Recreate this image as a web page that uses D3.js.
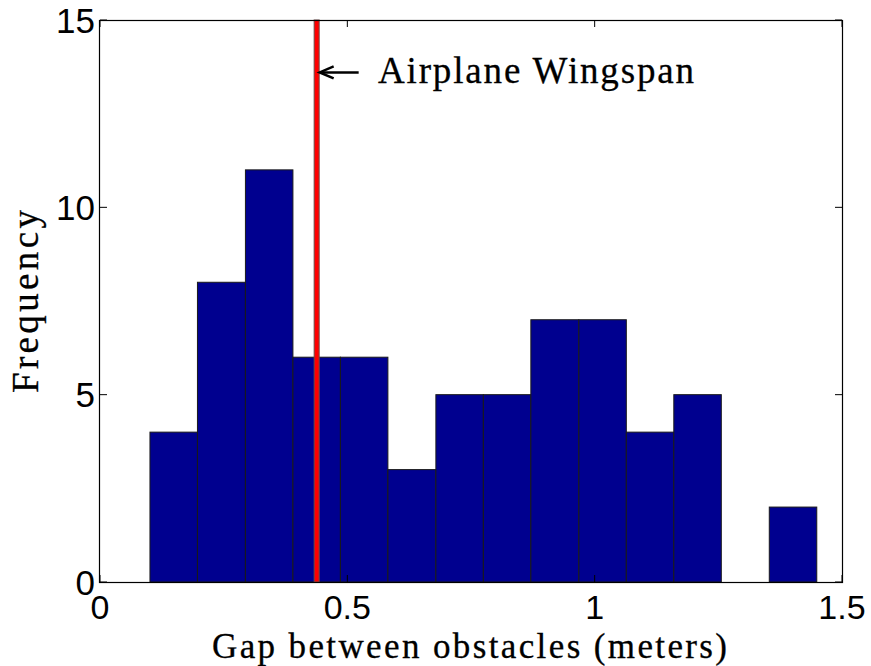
<!DOCTYPE html>
<html>
<head>
<meta charset="utf-8">
<script src="https://cdn.jsdelivr.net/npm/d3@7/dist/d3.min.js"></script>
<style>
  html, body { margin: 0; padding: 0; background: #fff; }
  svg { display: block; }
</style>
</head>
<body>
<svg id="chart" width="871" height="666"></svg>
<script>
// Histogram of gap widths between obstacles
const binEdges = [0.101, 0.197, 0.294, 0.390, 0.486, 0.582, 0.679, 0.775,
                  0.871, 0.968, 1.064, 1.160, 1.256, 1.353, 1.449];
const counts = [4, 8, 11, 6, 6, 3, 5, 5, 7, 7, 4, 5, 0, 2];
const xTicks = [0, 0.5, 1, 1.5];
const xTickLabels = ["0", "0.5", "1", "1.5"];
const yTicks = [0, 5, 10, 15];
const yTickLabels = ["0", "5", "10", "15"];
const wingspan = 0.438;
const annotationText = "Airplane Wingspan";
const xLabel = "Gap between obstacles (meters)";
const yLabel = "Frequency";

const svg = d3.select("#chart");
const plotLeft = 100, plotRight = 842, plotTop = 20, plotBottom = 582;

const x = d3.scaleLinear().domain([0, 1.5]).range([plotLeft, plotRight]);
const y = d3.scaleLinear().domain([0, 15]).range([plotBottom, plotTop]);

const bins = counts.map((c, i) => ({ x0: binEdges[i], x1: binEdges[i + 1], count: c }));

// bars
svg.append("g")
  .selectAll("rect")
  .data(bins.filter(d => d.count > 0))
  .join("rect")
  .attr("x", d => x(d.x0))
  .attr("y", d => y(d.count))
  .attr("width", d => x(d.x1) - x(d.x0))
  .attr("height", d => y(0) - y(d.count))
  .attr("fill", "#00008f")
  .attr("stroke", "#1a1a1a")
  .attr("stroke-width", 1);

// wingspan marker
const wx = x(wingspan);
svg.append("rect")
  .attr("x", wx - 2.5)
  .attr("y", plotTop)
  .attr("width", 5)
  .attr("height", plotBottom - plotTop)
  .attr("fill", "#ff0000")
  .attr("stroke", "#6a4a4a")
  .attr("stroke-width", 1);

// axes box
svg.append("rect")
  .attr("x", plotLeft - 0.5)
  .attr("y", plotTop + 0.5)
  .attr("width", plotRight - plotLeft + 1)
  .attr("height", plotBottom - plotTop)
  .attr("fill", "none")
  .attr("stroke", "#000")
  .attr("stroke-width", 1.2);

// inward ticks on all four sides
const tickLen = 7;
const tg = svg.append("g").attr("stroke", "#000").attr("stroke-width", 1);
xTicks.forEach(t => {
  const px = x(t);
  tg.append("line").attr("x1", px).attr("x2", px).attr("y1", plotBottom).attr("y2", plotBottom - tickLen);
  tg.append("line").attr("x1", px).attr("x2", px).attr("y1", plotTop).attr("y2", plotTop + tickLen);
});
yTicks.forEach(t => {
  const py = y(t);
  tg.append("line").attr("x1", plotLeft).attr("x2", plotLeft + tickLen).attr("y1", py).attr("y2", py);
  tg.append("line").attr("x1", plotRight).attr("x2", plotRight - tickLen).attr("y1", py).attr("y2", py);
});

// tick labels
const tickFont = "'Liberation Sans', Arial, Helvetica, sans-serif";
svg.append("g")
  .selectAll("text")
  .data(xTicks)
  .join("text")
  .attr("x", d => x(d))
  .attr("y", plotBottom + 37)
  .attr("text-anchor", "middle")
  .attr("font-family", tickFont)
  .attr("font-size", 34)
  .attr("fill", "#000")
  .text((d, i) => xTickLabels[i]);

svg.append("g")
  .selectAll("text")
  .data(yTicks)
  .join("text")
  .attr("x", plotLeft - 5)
  .attr("y", d => y(d) + 12.5)
  .attr("text-anchor", "end")
  .attr("font-family", tickFont)
  .attr("font-size", 35)
  .attr("fill", "#000")
  .text((d, i) => yTickLabels[i]);

// axis titles
const serif = "'Liberation Serif', 'Times New Roman', serif";
svg.append("text")
  .attr("x", 212)
  .attr("y", 658)
  .attr("font-family", serif)
  .attr("font-size", 35)
  .attr("textLength", 515)
  .attr("lengthAdjust", "spacing")
  .attr("fill", "#000")
  .attr("stroke", "#000")
  .attr("stroke-width", 0.3)
  .text(xLabel);

svg.append("text")
  .attr("transform", "translate(38,393) rotate(-90)")
  .attr("x", 0)
  .attr("y", 0)
  .attr("font-family", serif)
  .attr("font-size", 37)
  .attr("textLength", 183)
  .attr("lengthAdjust", "spacing")
  .attr("fill", "#000")
  .attr("stroke", "#000")
  .attr("stroke-width", 0.3)
  .text(yLabel);

// annotation arrow and label
const ay = y(13.6);
svg.append("line")
  .attr("x1", wx + 42).attr("x2", wx + 5)
  .attr("y1", ay).attr("y2", ay)
  .attr("stroke", "#000").attr("stroke-width", 2.5);
svg.append("path")
  .attr("d", `M${wx + 17},${ay - 6} L${wx + 3},${ay} L${wx + 17},${ay + 6}`)
  .attr("fill", "none")
  .attr("stroke", "#000")
  .attr("stroke-width", 2.5)
  .attr("stroke-linejoin", "miter");

svg.append("text")
  .attr("x", 378)
  .attr("y", 83)
  .attr("font-family", serif)
  .attr("font-size", 37)
  .attr("textLength", 316)
  .attr("lengthAdjust", "spacing")
  .attr("fill", "#000")
  .attr("stroke", "#000")
  .attr("stroke-width", 0.3)
  .text(annotationText);
</script>
</body>
</html>
